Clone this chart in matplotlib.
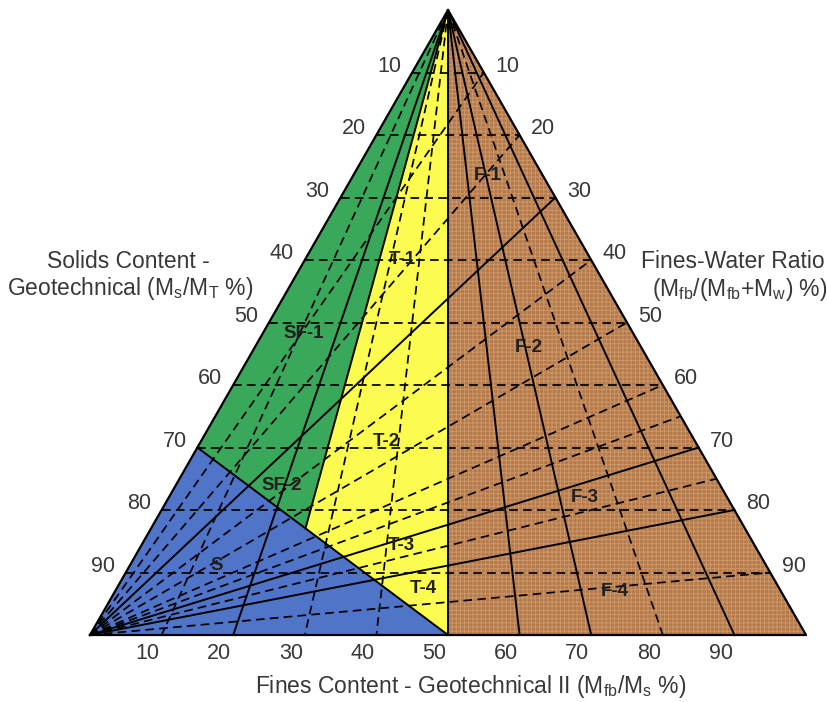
import numpy as np
import matplotlib
matplotlib.use("Agg")
import matplotlib.pyplot as plt
from matplotlib.patches import Polygon

plt.rcParams['font.family'] = ['Liberation Sans', 'DejaVu Sans']
plt.rcParams['mathtext.fontset'] = 'custom'
plt.rcParams['mathtext.rm'] = 'Liberation Sans'
plt.rcParams['mathtext.it'] = 'Liberation Sans:italic'
plt.rcParams['hatch.linewidth'] = 0.7

# ---------------- data ----------------
solids_ticks = [10, 20, 30, 40, 50, 60, 70, 80, 90]        # Ms/MT %
fines_ticks = [10, 20, 30, 40, 50, 60, 70, 80, 90]         # Mf/Ms %
fwr_ticks = [10, 20, 30, 40, 50, 60, 70, 80, 90]           # Mf/(Mf+Mw) %

fines_solid = [20, 50, 60, 70, 90]
fines_dashed = [10, 30, 40, 80]
fwr_solid = [30, 70, 80]
fwr_dashed = [10, 20, 40, 50, 60, 65, 75, 90]

sand_boundary_solids = [70, 100]     # S boundary: left edge at 70 % solids ...
sand_boundary_fines = [0, 50]        # ... to 50 % fines on the base
sf_t_fines = 26                      # SF / T boundary (fines content %)
f_boundary_fines = 50                # T / F boundary

region_names = ['F-1', 'T-1', 'SF-1', 'F-2', 'SF-2', 'T-2', 'F-3', 'T-3', 'S', 'T-4', 'F-4']
region_solids = [26.4, 40, 51.7, 54, 76, 69, 78, 85.6, 88.8, 92.5, 93]
region_fines = [71, 34, 11, 71, 19.5, 37.6, 74.5, 42.4, 13.6, 46.3, 75]

# ---------------- geometry ----------------
H = 625 / 716.0


def tern(s, f):
    """solids content s (%), fines content f (%) -> cartesian"""
    s = s / 100.0
    f = f / 100.0
    return np.array([0.5 - s / 2 + f * s, H * (1 - s)])


def fwr_point(r):
    return tern(r, 100)


def intersect(p1, p2, p3, p4):
    d1 = p2 - p1
    d2 = p4 - p3
    A = np.array([[d1[0], -d2[0]], [d1[1], -d2[1]]])
    t, _ = np.linalg.solve(A, p3 - p1)
    return p1 + t * d1


TOP = tern(0, 0)
BL = tern(100, 0)
BR = tern(100, 100)
SA = tern(sand_boundary_solids[0], sand_boundary_fines[0])
SB = tern(sand_boundary_solids[1], sand_boundary_fines[1])
P = intersect(SA, SB, TOP, tern(100, sf_t_fines))
FM = tern(100, f_boundary_fines)

fig = plt.figure(figsize=(8.28, 7.02), dpi=100)
ax = fig.add_axes([0, 0, 1, 1])
ax.set_xlim(-90 / 716, 738 / 716)
ax.set_ylim(-67 / 716, 635 / 716)
ax.axis('off')

green = '#3AA85A'
yellow = '#FCFC50'
blue = '#4F74C8'
brown = '#B5794A'

ax.add_patch(Polygon([SA, BL, SB], closed=True, facecolor=blue, edgecolor='none', zorder=1))
ax.add_patch(Polygon([TOP, SA, P], closed=True, facecolor=green, edgecolor='none', zorder=1))
ax.add_patch(Polygon([TOP, P, SB], closed=True, facecolor=yellow, edgecolor='none', zorder=1))
ax.add_patch(Polygon([TOP, FM, BR], closed=True, facecolor=brown, edgecolor='#CB986A',
                     linewidth=0, hatch='++++', zorder=1))

dash = (0, (5, 3))
lwd = 1.25
lws = 1.4
k = 'black'

# horizontal solids-content lines
for s in solids_ticks:
    a, b = tern(s, 0), tern(s, 100)
    ax.plot([a[0], b[0]], [a[1], b[1]], color=k, lw=lwd, ls=dash, zorder=3)

# fines-content lines from the water apex
for f in fines_dashed:
    b = tern(100, f)
    ax.plot([TOP[0], b[0]], [TOP[1], b[1]], color=k, lw=lwd, ls=dash, zorder=3)
for f in fines_solid:
    b = tern(100, f)
    ax.plot([TOP[0], b[0]], [TOP[1], b[1]], color=k, lw=lws, ls='-', zorder=4)

# fines-water-ratio lines from the sand apex
for r in fwr_dashed:
    b = fwr_point(r)
    ax.plot([BL[0], b[0]], [BL[1], b[1]], color=k, lw=lwd, ls=dash, zorder=3)
for r in fwr_solid:
    b = fwr_point(r)
    ax.plot([BL[0], b[0]], [BL[1], b[1]], color=k, lw=lws, ls='-', zorder=4)

# region boundaries
ax.plot([SA[0], SB[0]], [SA[1], SB[1]], color=k, lw=lws, zorder=4)
ax.plot([TOP[0], P[0]], [TOP[1], P[1]], color=k, lw=lws, zorder=4)

# outline
tri = np.array([BL, BR, TOP, BL])
ax.plot(tri[:, 0], tri[:, 1], color=k, lw=1.6, zorder=5)

# tick labels
tc = '#383838'
tfs = 15.5
for s in solids_ticks:
    ax.annotate(str(s), tern(s, 0), xytext=(-16.5, 4.5), textcoords='offset points',
                ha='center', va='center', fontsize=tfs, color=tc)
for r in fwr_ticks:
    ax.annotate(str(r), fwr_point(r), xytext=(17, 4.5), textcoords='offset points',
                ha='center', va='center', fontsize=tfs, color=tc)
for f in fines_ticks:
    ax.annotate(str(f), tern(100, f), xytext=(-10, -13), textcoords='offset points',
                ha='center', va='center', fontsize=tfs, color=tc)

# region labels
for name, s, f in zip(region_names, region_solids, region_fines):
    p = tern(s, f)
    ax.text(p[0], p[1], name, ha='center', va='center', fontsize=13.5,
            fontweight='bold', color='#202020', zorder=6)

# axis titles
W, Hf = 828.0, 702.0
afs = 16.5
fig.text(128 / W, 1 - 262 / Hf, 'Solids Content -', ha='center', va='center', fontsize=afs, color=tc)
fig.text(130 / W, 1 - 289 / Hf, r'Geotechnical (M$_{\rm s}$/M$_{\rm T}$ %)', ha='center', va='center',
         fontsize=afs, color=tc)
fig.text(733 / W, 1 - 262 / Hf, 'Fines-Water Ratio', ha='center', va='center', fontsize=afs, color=tc)
fig.text(740 / W, 1 - 290 / Hf, r'(M$_{\rm fb}$/(M$_{\rm fb}$+M$_{\rm w}$) %)', ha='center', va='center',
         fontsize=afs, color=tc)
fig.text(471 / W, 1 - 687 / Hf, r'Fines Content - Geotechnical II (M$_{\rm fb}$/M$_{\rm s}$ %)',
         ha='center', va='center', fontsize=afs, color=tc)

fig.savefig('out.png', dpi=100)
